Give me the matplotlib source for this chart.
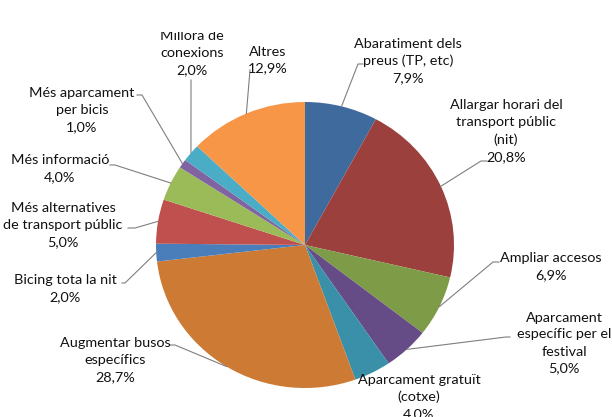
import numpy as np
import matplotlib.pyplot as plt
from matplotlib.transforms import Bbox

labels = ['Abaratiment dels\npreus (TP, etc)', 'Allargar horari del\ntransport públic\n(nit)',
          'Ampliar accesos', 'Aparcament\nespecífic per el\nfestival', 'Aparcament gratuït\n(cotxe)',
          'Augmentar busos\nespecífics', 'Bicing tota la nit', 'Més alternatives\nde transport públic',
          'Més informació', 'Més aparcament\nper bicis', 'Millora de\nconexions', 'Altres']
values = [7.9, 20.8, 6.9, 5.0, 4.0, 28.7, 2.0, 5.0, 4.0, 1.0, 2.0, 12.9]
colors = ['#3F6A9E', '#9C403D', '#7E9C47', '#664C87', '#3990A8', '#CC7A34',
          '#4A7EBB', '#C0504D', '#9BBB59', '#8064A2', '#4BACC6', '#F79646']

# label centres (pixels) and leader elbows (pixels, None = no line)
label_pos = [(408, 61), (506, 131), (551, 267), (564, 343), (419, 397), (115, 360),
             (65, 289), (63, 225), (60, 169), (82, 110), (192, 53), (268, 60)]
elbows = [[(363, 64), (358, 64)], [(487, 161), (481, 161)], [(499, 262), (493, 262)],
          [(510, 337), (506, 337)], None, [(170, 345), (175, 345)],
          [(122, 283), (125, 283)], [(128, 228), (135, 228)], [(110, 165), (115, 165)],
          [(137, 95), (142, 95)], [(191, 80)], [(250, 70)]]

W, H = 612, 417
cx, cy, rx, ry = 305, 245, 149, 143

def to_data(p):
    return ((p[0] - cx) / rx, (cy - p[1]) / ry)

fig = plt.figure(figsize=(W / 100, H / 100), dpi=100)
ax = fig.add_axes([0, 0, 1, 1])
ax.pie(values, colors=colors, startangle=90, counterclock=False,
       wedgeprops=dict(linewidth=0))
ax.set_aspect('auto')
ax.set_xlim(-cx / rx, (W - cx) / rx)
ax.set_ylim((cy - H) / ry, cy / ry)
ax.axis('off')

# the original chart area cuts off just above the top label
clip = Bbox([[0, 0], [W, H - 32]])

total = sum(values)
cum = np.cumsum([0] + values[:-1])
for i, v in enumerate(values):
    th = np.radians(360 * (cum[i] + v / 2) / total)
    ex, ey = np.sin(th), np.cos(th)
    if elbows[i] is not None:
        pts = [(ex, ey)] + [to_data(p) for p in reversed(elbows[i])]
        xs, ys = zip(*pts)
        ax.plot(xs, ys, color='#7f7f7f', lw=0.8)
    pct = ('%.1f%%' % v).replace('.', ',')
    x, y = label_pos[i]
    t = ax.text(x / W, 1 - y / H, labels[i] + '\n' + pct, transform=ax.transAxes,
                ha='center', va='center', fontsize=10.4, family='Lato',
                color='#111111', linespacing=1.5)
    t.set_clip_box(clip)
    t.set_clip_on(True)

fig.savefig('out.png', dpi=100)
